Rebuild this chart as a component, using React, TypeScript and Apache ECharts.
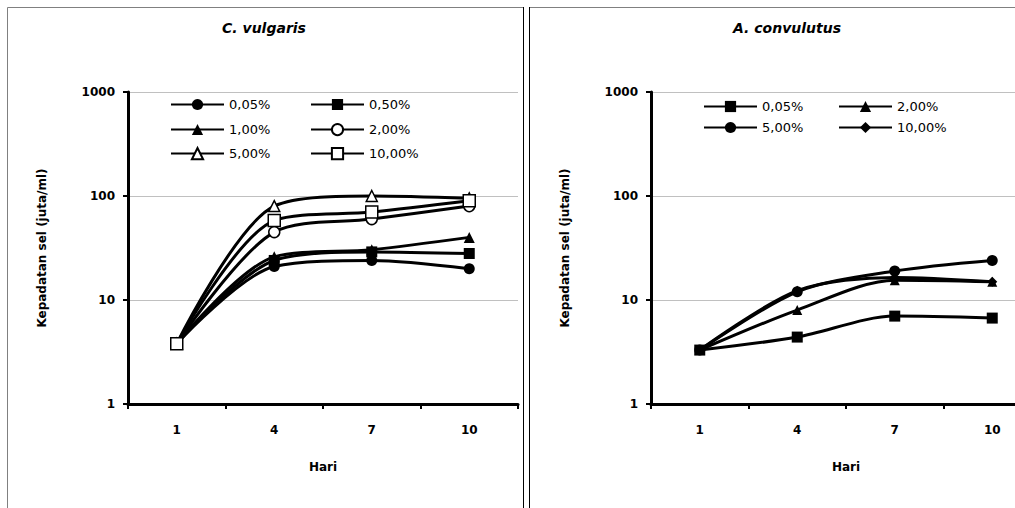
import React, { useEffect, useRef } from "react";
import * as echarts from "echarts";

// ---- Data ----
const days = ["1", "4", "7", "10"];

// C. vulgaris (left)
const cvNames = ["0,05%", "0,50%", "1,00%", "2,00%", "5,00%", "10,00%"];
const cv005 = [3.8, 21, 24, 20];
const cv050 = [3.8, 24, 29, 28];
const cv100 = [3.8, 26, 30.5, 40];
const cv200 = [3.8, 45, 60, 80];
const cv500 = [3.8, 80, 100, 95];
const cv1000 = [3.8, 58, 70, 90];

// A. convulutus (right)
const acNames = ["0,05%", "2,00%", "5,00%", "10,00%"];
const ac005 = [3.3, 4.4, 7, 6.7];
const ac200 = [3.3, 8, 15.5, 15];
const ac500 = [3.3, 12, 19, 24];
const ac1000 = [3.3, 12.3, 16.5, 15];

const yMin = 1;
const yMax = 1000;

const FONT = "'DejaVu Sans', Verdana, sans-serif";

type Sym = { symbol: string; size: number; open: boolean };

function makeSeries(name: string, data: number[], s: Sym) {
  return {
    type: "line",
    name,
    data,
    smooth: 0.3,
    symbol: s.symbol,
    symbolSize: s.size,
    showAllSymbol: true,
    lineStyle: { color: "#000", width: 3 },
    itemStyle: s.open
      ? { color: "#fff", borderColor: "#000", borderWidth: 1.5 }
      : { color: "#000", borderColor: "#000", borderWidth: 0 },
    emphasis: { disabled: true },
  };
}

function makeOption(cfg: {
  title: string;
  titleX: number;
  gridLeft: number;
  border: { x: number; darkX: number };
  names: string[];
  series: any[];
  legendPos: { left: number; top: number }[];
}) {
  const bold12 = {
    fontFamily: FONT,
    fontSize: 12,
    fontWeight: "bold",
    color: "#000",
  };
  return {
    animation: false,
    backgroundColor: "#fff",
    graphic: [
      {
        type: "rect",
        shape: { x: cfg.border.x + 0.5, y: 7.5, width: 516, height: 530 },
        style: { fill: "none", stroke: "#808080", lineWidth: 1 },
        silent: true,
      },
      {
        type: "line",
        shape: { x1: cfg.border.darkX + 0.5, y1: 7, x2: cfg.border.darkX + 0.5, y2: 508 },
        style: { stroke: "#000", lineWidth: 1 },
        silent: true,
      },
      {
        type: "text",
        x: cfg.titleX,
        y: 28,
        style: {
          text: cfg.title,
          fontFamily: FONT,
          fontSize: 14,
          fontWeight: "bold",
          fontStyle: "italic",
          fill: "#000",
          align: "center",
          verticalAlign: "middle",
        },
        silent: true,
      },
    ],
    legend: cfg.names.map((n, i) => ({
      data: [n],
      left: cfg.legendPos[i].left,
      top: cfg.legendPos[i].top,
      orient: "horizontal",
      padding: 0,
      itemGap: 0,
      itemWidth: 53,
      itemHeight: 14,
      selectedMode: false,
      textStyle: { fontFamily: FONT, fontSize: 13, color: "#000" },
    })),
    grid: {
      left: cfg.gridLeft,
      top: 92,
      width: 390,
      height: 312,
      containLabel: false,
    },
    xAxis: {
      type: "category",
      data: days,
      boundaryGap: true,
      axisLine: { show: true, onZero: false, lineStyle: { color: "#000", width: 3 } },
      axisTick: { show: true, length: 5, lineStyle: { color: "#000", width: 2 } },
      axisLabel: { ...bold12, margin: 20 },
      splitLine: { show: false },
      name: "Hari",
      nameLocation: "middle",
      nameGap: 57,
      nameTextStyle: bold12,
    },
    yAxis: {
      type: "log",
      logBase: 10,
      min: yMin,
      max: yMax,
      axisLine: { show: true, lineStyle: { color: "#000", width: 3 } },
      axisTick: { show: true, length: 5, lineStyle: { color: "#000", width: 2 } },
      axisLabel: {
        ...bold12,
        margin: 13,
        formatter: (v: number) => String(Math.round(v)),
      },
      splitLine: { show: true, lineStyle: { color: "#c0c0c0", width: 1 } },
      name: "Kepadatan sel (juta/ml)",
      nameLocation: "middle",
      nameGap: 80,
      nameRotate: 90,
      nameTextStyle: bold12,
    },
    series: cfg.series,
  };
}

function Panel(props: { option: any; style: React.CSSProperties }) {
  const ref = useRef<HTMLDivElement>(null);
  useEffect(() => {
    if (!ref.current) return;
    const chart = echarts.init(ref.current, undefined, { renderer: "svg" });
    chart.setOption(props.option);
    return () => chart.dispose();
  }, []);
  return <div ref={ref} style={props.style} />;
}

export default function App() {
  const leftSeries = [
    makeSeries(cvNames[0], cv005, { symbol: "circle", size: 11, open: false }),
    makeSeries(cvNames[1], cv050, { symbol: "rect", size: 11, open: false }),
    makeSeries(cvNames[2], cv100, { symbol: "triangle", size: 11, open: false }),
    makeSeries(cvNames[3], cv200, { symbol: "circle", size: 11, open: true }),
    makeSeries(cvNames[4], cv500, { symbol: "triangle", size: 11, open: true }),
    makeSeries(cvNames[5], cv1000, { symbol: "rect", size: 12, open: true }),
  ];
  const rightSeries = [
    makeSeries(acNames[0], ac005, { symbol: "rect", size: 11, open: false }),
    makeSeries(acNames[1], ac200, { symbol: "triangle", size: 10, open: false }),
    makeSeries(acNames[2], ac500, { symbol: "circle", size: 11, open: false }),
    makeSeries(acNames[3], ac1000, { symbol: "diamond", size: 10, open: false }),
  ];

  const leftOption = makeOption({
    title: "C. vulgaris",
    titleX: 264,
    gridLeft: 128,
    border: { x: 7, darkX: 523 },
    names: cvNames,
    series: leftSeries,
    legendPos: [
      { left: 170, top: 98 },
      { left: 310, top: 98 },
      { left: 170, top: 123 },
      { left: 310, top: 123 },
      { left: 170, top: 147 },
      { left: 310, top: 147 },
    ],
  });

  const rightOption = makeOption({
    title: "A. convulutus",
    titleX: 261,
    gridLeft: 125,
    border: { x: 3, darkX: 3 },
    names: acNames,
    series: rightSeries,
    legendPos: [
      { left: 177, top: 100 },
      { left: 312, top: 100 },
      { left: 177, top: 121 },
      { left: 312, top: 121 },
    ],
  });

  return (
    <div
      style={{
        position: "fixed",
        left: 0,
        top: 0,
        width: 1015,
        height: 508,
        overflow: "hidden",
        background: "#fff",
      }}
    >
      <Panel
        option={leftOption}
        style={{ position: "absolute", left: 0, top: 0, width: 526, height: 508 }}
      />
      <Panel
        option={rightOption}
        style={{ position: "absolute", left: 526, top: 0, width: 526, height: 508 }}
      />
    </div>
  );
}
